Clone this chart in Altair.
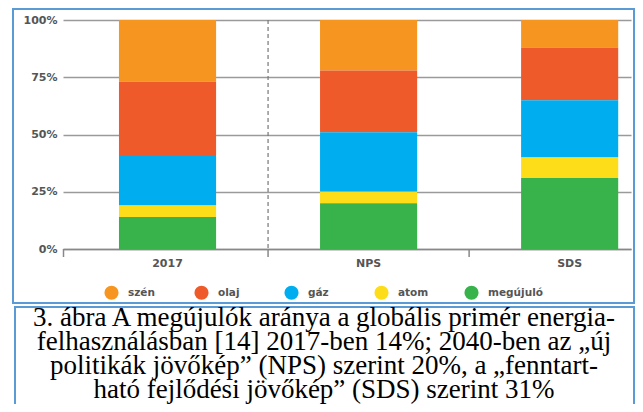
import altair as alt
import pandas as pd

categories = ["2017", "NPS", "SDS"]
sources = ["szén", "olaj", "gáz", "atom", "megújuló"]
colors = ["#F6951F", "#EE5A2A", "#00ADEE", "#FDDC1A", "#38B24A"]
szen = [27, 22, 12]
olaj = [32, 27, 23]
gaz = [22, 26, 25]
atom = [5, 5, 9]
megujulo = [14, 20, 31]
y_ticks = [0, 25, 50, 75, 100]
boundary_after = ["2017", "NPS"]
boundary_dashed = [True, False]
caption_lines = [
    "3. ábra A megújulók aránya a globális primér energia-",
    "felhasználásban [14] 2017-ben 14%; 2040-ben az „új",
    "politikák jövőkép” (NPS) szerint 20%, a „fenntart-",
    "ható fejlődési jövőkép” (SDS) szerint 31%",
]

series = [szen, olaj, gaz, atom, megujulo]
rows = []
for si, (name, vals) in enumerate(zip(sources, series)):
    for c, v in zip(categories, vals):
        rows.append({"cat": c, "src": name, "val": v, "ord": len(sources) - 1 - si})
df = pd.DataFrame(rows)
bdf = pd.DataFrame({"cat": boundary_after, "dashed": boundary_dashed})

LBL = "#555555"
FONT = "DejaVu Sans"
W, H = 568, 229
PI, PO = 0.517, 0.171
xscale = alt.Scale(paddingInner=PI, paddingOuter=PO, align=0.814)
STEP = W / (len(categories) - PI + 2 * PO)
HALF_GAP = PI * STEP / 2

bars = alt.Chart(df).mark_bar(strokeWidth=0).encode(
    x=alt.X(
        "cat:N",
        sort=categories,
        scale=xscale,
        axis=alt.Axis(
            title=None, labelAngle=0, ticks=False, domain=True, domainColor="#888888",
            domainWidth=1.5, grid=False, labelPadding=8, labelFont=FONT,
            labelFontWeight="bold", labelFontSize=11, labelColor=LBL,
        ),
    ),
    y=alt.Y(
        "val:Q",
        stack="zero",
        scale=alt.Scale(domain=[0, 100]),
        axis=alt.Axis(
            title=None, values=y_ticks, labelExpr="datum.value + '%'", grid=True,
            gridColor="#9a9a9a", gridWidth=1.5, domain=False, ticks=False,
            labelPadding=6, labelFont=FONT, labelFontWeight="bold", labelFontSize=11,
            labelColor=LBL,
        ),
    ),
    color=alt.Color(
        "src:N",
        scale=alt.Scale(domain=sources, range=colors),
        legend=alt.Legend(
            title=None, orient="none", legendX=41, legendY=265, direction="horizontal",
            columns=5, gridAlign="all", symbolType="circle", symbolSize=200,
            symbolStrokeWidth=0, labelOffset=9, columnPadding=11, padding=0,
            labelFont=FONT, labelFontWeight="bold", labelFontSize=10.5, labelColor=LBL,
        ),
    ),
    order=alt.Order("ord:Q"),
)

dash_rule = alt.Chart(bdf).transform_filter("datum.dashed").mark_rule(
    color="#777777", strokeWidth=1.2, strokeDash=[4, 3], xOffset=HALF_GAP
).encode(
    x=alt.X("cat:N", sort=categories, bandPosition=1),
    y=alt.value(0), y2=alt.value(H),
)
tick_rules = alt.Chart(bdf).mark_rule(color="#888888", strokeWidth=1.5, xOffset=HALF_GAP).encode(
    x=alt.X("cat:N", sort=categories, bandPosition=1),
    y=alt.value(H), y2=alt.value(H + 8),
)
left_tick = alt.Chart(alt.Data(values=[{}])).mark_rule(color="#888888", strokeWidth=1.5).encode(
    x=alt.value(0.5), y=alt.value(H), y2=alt.value(H + 8)
)

one = alt.Data(values=[{}])
box1 = alt.Chart(one).mark_rect(fill="transparent", stroke="#5B9BD5", strokeWidth=2).encode(
    x=alt.value(-50), x2=alt.value(571), y=alt.value(-11), y2=alt.value(283)
)
box2 = alt.Chart(one).mark_rect(fill="transparent", stroke="#5B9BD5", strokeWidth=2).encode(
    x=alt.value(-48), x2=alt.value(571), y=alt.value(287), y2=alt.value(420)
)
caption = alt.Chart(one).mark_text(
    font="Liberation Serif", fontSize=27, align="center", baseline="alphabetic",
    lineHeight=24, color="black"
).encode(x=alt.value(261), y=alt.value(306), text=alt.value(caption_lines))

chart = alt.layer(bars, dash_rule, tick_rules, left_tick, box1, box2, caption).properties(
    width=W, height=H,
    autosize=alt.AutoSizeParams(type="none"),
    padding={"left": 55, "top": 12, "right": 4, "bottom": 155},
    background="white",
).configure_view(stroke=None)

chart.save("out.html", embed_options={"renderer": "svg", "actions": False})
